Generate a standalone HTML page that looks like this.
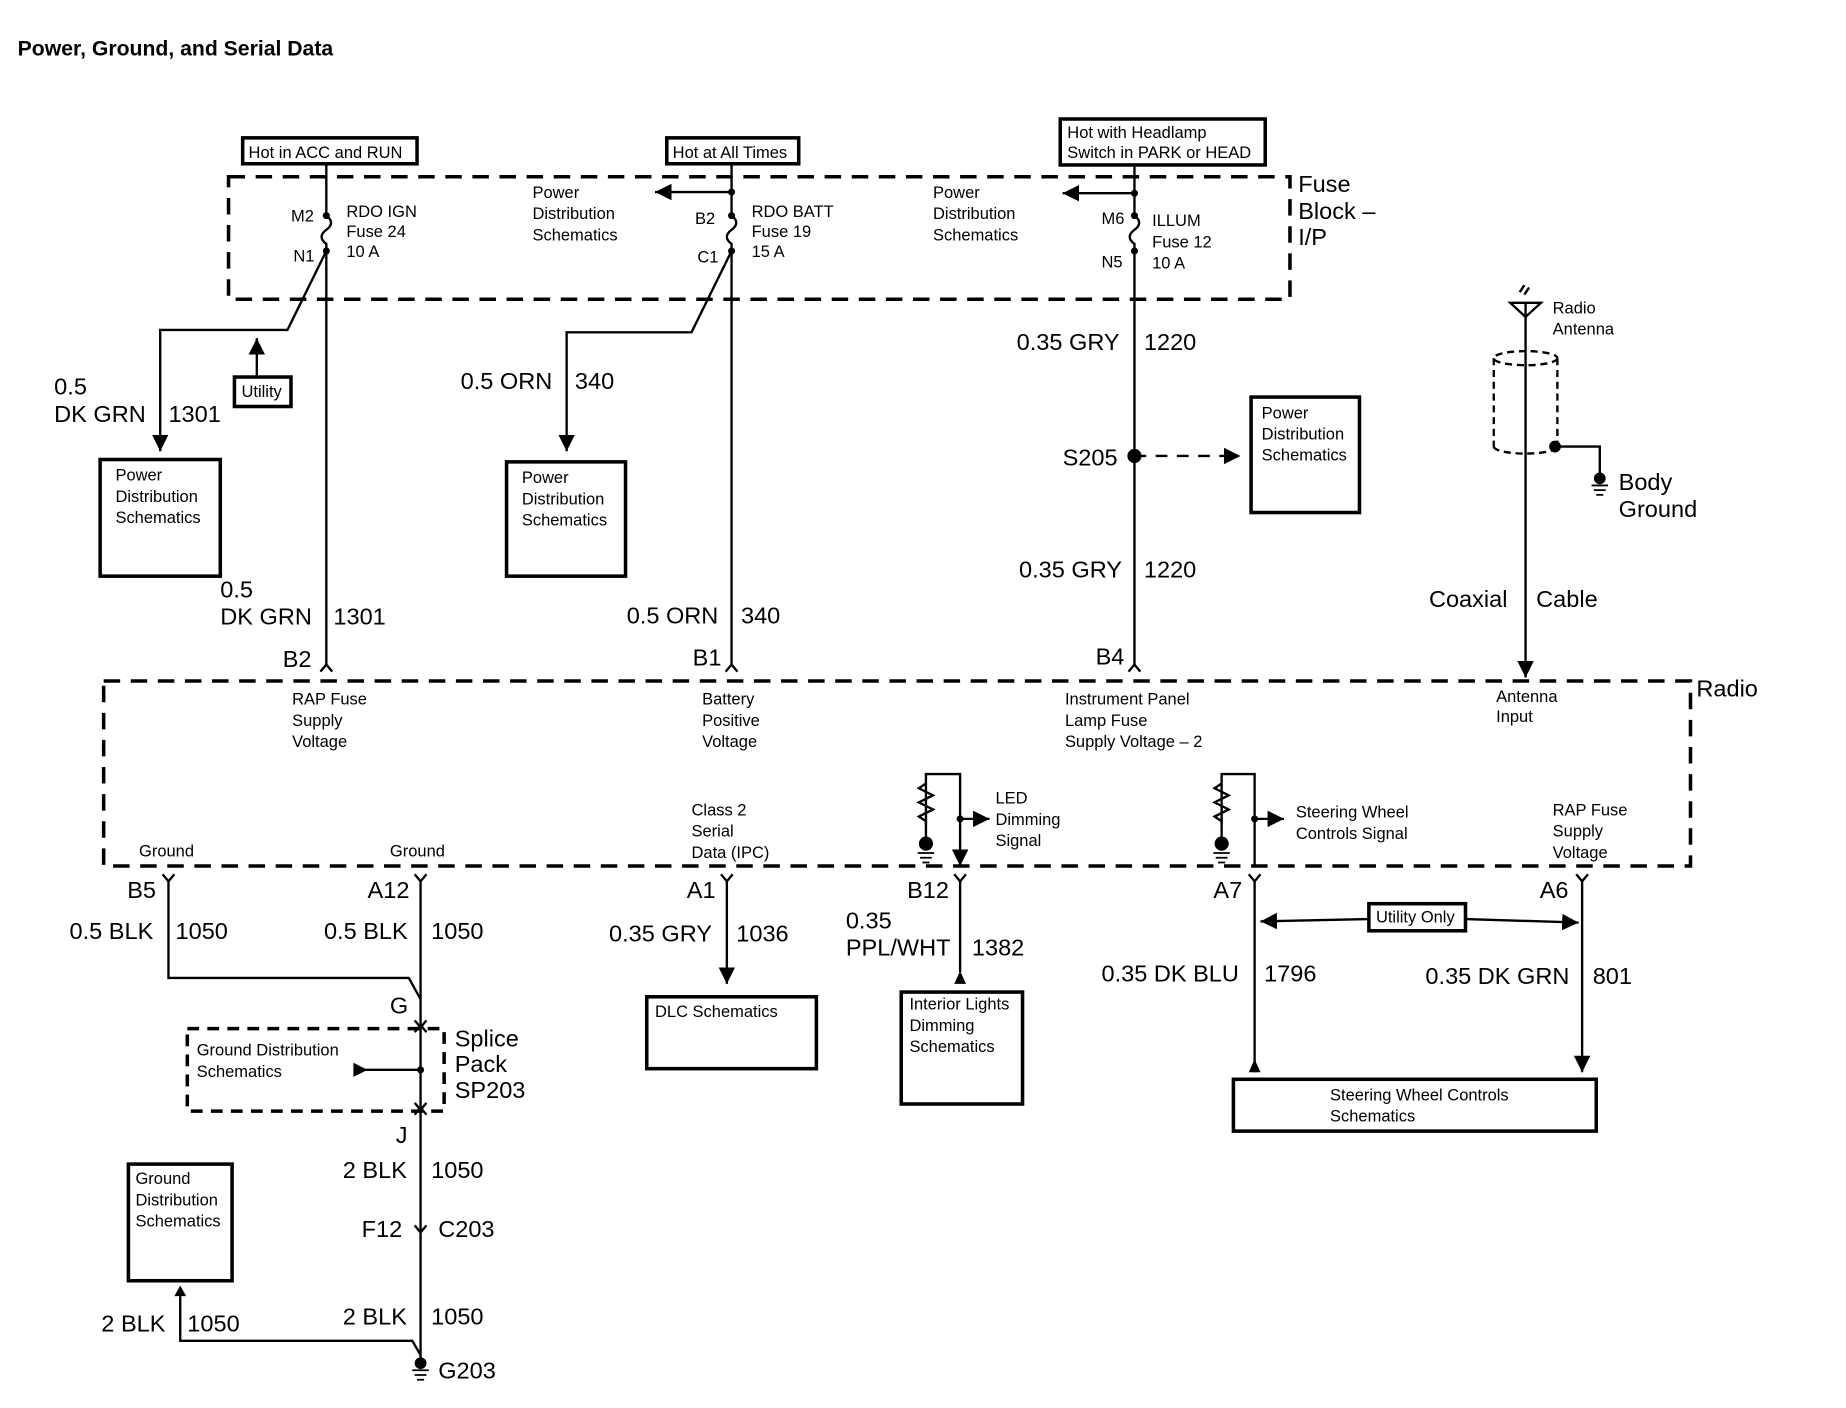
<!DOCTYPE html>
<html><head><meta charset="utf-8"><style>
html,body{margin:0;padding:0;background:#fff;}
svg{display:block}
text{font-family:"Liberation Sans",sans-serif;fill:#000}
.s{font-size:14px}
.m{font-size:19px}
.l{font-size:20px}
</style></head><body>
<svg width="1846" height="1408" viewBox="0 0 1567 1195" preserveAspectRatio="none" xmlns="http://www.w3.org/2000/svg">
<defs>
<marker id="a" viewBox="0 0 10 10" refX="10" refY="5" markerWidth="7" markerHeight="7" orient="auto"><path d="M0,0L10,5L0,10z"/></marker>
</defs>
<g stroke="#000" stroke-width="2" fill="none">
<rect x="194" y="150" width="901" height="104" stroke-dasharray="14,9" stroke-width="3"/>
<rect x="206" y="117" width="148" height="22" stroke-width="3"/>
<rect x="566" y="117" width="112" height="22" stroke-width="3"/>
<rect x="900" y="101" width="174" height="39" stroke-width="3"/>
<path d="M277,139V183 q8,6 0,12 q-8,6 0,12 V566"/>
<path d="M277,213L244,280H136V383" marker-end="url(#a)"/>
<rect x="199" y="320" width="48" height="25" stroke-width="3"/>
<path d="M218,320V287" marker-end="url(#a)"/>
<path d="M621,139V183 q8,6 0,12 q-8,6 0,12 V566"/>
<path d="M621,163H556" marker-end="url(#a)"/>
<path d="M621,213L587,282H481V383" marker-end="url(#a)"/>
<path d="M963,140V183 q8,6 0,12 q-8,6 0,12 V566"/>
<path d="M963,164H902" marker-end="url(#a)"/>
<path d="M963,387H1053" stroke-dasharray="10,8" marker-end="url(#a)"/>
<rect x="85" y="390" width="102" height="99" stroke-width="3"/>
<rect x="430" y="392" width="101" height="97" stroke-width="3"/>
<rect x="1062" y="337" width="92" height="98" stroke-width="3"/>
<path d="M272,570l5,-6l5,6M616,570l5,-6l5,6M958,570l5,-6l5,6"/>
<path d="M1282,257H1308L1295,269z"/>
<path d="M1290,248l4,-6M1294,250l4,-6"/>
<path d="M1295,257V575" marker-end="url(#a)"/>
<ellipse cx="1295" cy="304" rx="27" ry="6" stroke-dasharray="6,4"/>
<path d="M1268,304V379M1322,304V379" stroke-dasharray="6,4"/>
<path d="M1268,379a27,6 0 0 0 54,0" stroke-dasharray="6,4"/>
<path d="M1320,379H1358V405"/>
<rect x="88" y="578" width="1347" height="157" stroke-dasharray="14,9" stroke-width="3"/>
<path d="M786,700V657H815V735" />
<path d="M815,722V735" marker-end="url(#a)"/>
<path d="M786,665l-6,4l12,6l-12,6l12,6l-12,6l6,4V712"/>
<path d="M815,695H840" marker-end="url(#a)"/>
<path d="M1037,700V657H1065V735"/>
<path d="M1037,665l-6,4l12,6l-12,6l12,6l-12,6l6,4V712"/>
<path d="M1065,695H1090" marker-end="url(#a)"/>
<path d="M138,742l5,6l5,-6M352,742l5,6l5,-6M612,742l5,6l5,-6M810,742l5,6l5,-6M1060,742l5,6l5,-6M1338,742l5,6l5,-6"/>
<path d="M143,748V830H347L357,848V1160"/>
<path d="M357,748V848"/>
<rect x="159" y="873" width="218" height="70" stroke-dasharray="10,7" stroke-width="3"/>
<path d="M352,866l5,6l5,-6M352,876l5,-6l5,6M352,936l5,6l5,-6M352,946l5,-6l5,6M352,1040l5,6l5,-6"/>
<path d="M357,908H305"/>
<path d="M153,1100V1138H350L357,1150"/>
<rect x="109" y="988" width="88" height="99" stroke-width="3"/>
<path d="M617,748V835" marker-end="url(#a)"/>
<rect x="549" y="846" width="144" height="61" stroke-width="3"/>
<path d="M815,748V825"/>
<rect x="765" y="842" width="103" height="95" stroke-width="3"/>
<path d="M1065,748V910"/>
<path d="M1343,748V910" marker-end="url(#a)"/>
<rect x="1162" y="767" width="82" height="23" stroke-width="3"/>
<path d="M1162,780L1070,782" marker-end="url(#a)"/>
<path d="M1244,780L1340,783" marker-end="url(#a)"/>
<rect x="1047" y="916" width="308" height="44" stroke-width="3"/>
</g>
<g fill="#000">
<circle cx="277" cy="183" r="3"/><circle cx="277" cy="213" r="3"/>
<circle cx="621" cy="163" r="3"/><circle cx="621" cy="183" r="3"/><circle cx="621" cy="213" r="3"/>
<circle cx="963" cy="164" r="3"/><circle cx="963" cy="183" r="3"/><circle cx="963" cy="213" r="3"/>
<circle cx="963" cy="387" r="6"/><circle cx="1320" cy="379" r="5"/>
<circle cx="786" cy="716" r="6"/><circle cx="1037" cy="716" r="6"/>
<circle cx="815" cy="695" r="3"/><circle cx="1065" cy="695" r="3"/>
<circle cx="357" cy="908" r="3"/>
<path d="M300,902L312,908L300,914z"/>
<path d="M148,1100L153,1091L158,1100z"/>
<path d="M810,835L815,824L820,835z"/>
<path d="M1060,910L1065,899L1070,910z"/>
<circle cx="357" cy="1157" r="5"/>
<circle cx="1358" cy="406" r="5"/>
</g>
<g stroke="#000" stroke-width="1.5">
<path d="M779,724h14M781,728h10M783,732h6M1030,724h14M1032,728h10M1034,732h6"/>
<path d="M350,1163h14M352,1167h10M354,1171h6M1351,412h14M1353,416h10M1355,420h6"/>
</g>
<text x="15" y="47" style="font-size:18px;font-weight:bold">Power, Ground, and Serial Data</text>
<g class="s">
<text x="211" y="134">Hot in ACC and RUN</text>
<text x="571" y="134">Hot at All Times</text>
<text x="906" y="117">Hot with Headlamp</text><text x="906" y="134">Switch in PARK or HEAD</text>
<text x="247" y="188">M2</text><text x="249" y="222">N1</text>
<text x="294" y="184">RDO IGN</text><text x="294" y="201">Fuse 24</text><text x="294" y="218">10 A</text>
<text x="452" y="168">Power</text><text x="452" y="186">Distribution</text><text x="452" y="204">Schematics</text>
<text x="590" y="190">B2</text><text x="592" y="223">C1</text>
<text x="638" y="184">RDO BATT</text><text x="638" y="201">Fuse 19</text><text x="638" y="218">15 A</text>
<text x="792" y="168">Power</text><text x="792" y="186">Distribution</text><text x="792" y="204">Schematics</text>
<text x="935" y="190">M6</text><text x="935" y="227">N5</text>
<text x="978" y="192">ILLUM</text><text x="978" y="210">Fuse 12</text><text x="978" y="228">10 A</text>
<text x="205" y="337">Utility</text>
<text x="98" y="408">Power</text><text x="98" y="426">Distribution</text><text x="98" y="444">Schematics</text>
<text x="443" y="410">Power</text><text x="443" y="428">Distribution</text><text x="443" y="446">Schematics</text>
<text x="1071" y="355">Power</text><text x="1071" y="373">Distribution</text><text x="1071" y="391">Schematics</text>
<text x="1318" y="266">Radio</text><text x="1318" y="284">Antenna</text>
<text x="248" y="598">RAP Fuse</text><text x="248" y="616">Supply</text><text x="248" y="634">Voltage</text>
<text x="596" y="598">Battery</text><text x="596" y="616">Positive</text><text x="596" y="634">Voltage</text>
<text x="904" y="598">Instrument Panel</text><text x="904" y="616">Lamp Fuse</text><text x="904" y="634">Supply Voltage – 2</text>
<text x="1270" y="596">Antenna</text><text x="1270" y="613">Input</text>
<text x="118" y="727">Ground</text><text x="331" y="727">Ground</text>
<text x="587" y="692">Class 2</text><text x="587" y="710">Serial</text><text x="587" y="728">Data (IPC)</text>
<text x="845" y="682">LED</text><text x="845" y="700">Dimming</text><text x="845" y="718">Signal</text>
<text x="1100" y="694">Steering Wheel</text><text x="1100" y="712">Controls Signal</text>
<text x="1318" y="692">RAP Fuse</text><text x="1318" y="710">Supply</text><text x="1318" y="728">Voltage</text>
<text x="167" y="896">Ground Distribution</text><text x="167" y="914">Schematics</text>
<text x="115" y="1005">Ground</text><text x="115" y="1023">Distribution</text><text x="115" y="1041">Schematics</text>
<text x="556" y="863">DLC Schematics</text>
<text x="772" y="857">Interior Lights</text><text x="772" y="875">Dimming</text><text x="772" y="893">Schematics</text>
<text x="1168" y="783">Utility Only</text>
<text x="1129" y="934">Steering Wheel Controls</text><text x="1129" y="952">Schematics</text>
</g>
<g class="l">
<text x="1102" y="163">Fuse</text><text x="1102" y="186">Block –</text><text x="1102" y="208">I/P</text>
<text x="46" y="335">0.5</text><text x="46" y="358">DK GRN</text><text x="143" y="358">1301</text>
<text x="187" y="507">0.5</text><text x="187" y="530">DK GRN</text><text x="283" y="530">1301</text>
<text x="240" y="566">B2</text>
<text x="391" y="330">0.5 ORN</text><text x="488" y="330">340</text>
<text x="532" y="529">0.5 ORN</text><text x="629" y="529">340</text><text x="588" y="565">B1</text>
<text x="863" y="297">0.35 GRY</text><text x="971" y="297">1220</text>
<text x="902" y="395">S205</text>
<text x="865" y="490">0.35 GRY</text><text x="971" y="490">1220</text><text x="930" y="564">B4</text>
<text x="1374" y="416">Body</text><text x="1374" y="439">Ground</text>
<text x="1213" y="515">Coaxial</text><text x="1304" y="515">Cable</text>
<text x="1440" y="591">Radio</text>
<text x="108" y="762">B5</text><text x="312" y="762">A12</text><text x="583" y="762">A1</text>
<text x="770" y="762">B12</text><text x="1030" y="762">A7</text><text x="1307" y="762">A6</text>
<text x="59" y="797">0.5 BLK</text><text x="149" y="797">1050</text>
<text x="275" y="797">0.5 BLK</text><text x="366" y="797">1050</text>
<text x="331" y="860">G</text>
<text x="386" y="888">Splice</text><text x="386" y="910">Pack</text><text x="386" y="932">SP203</text>
<text x="336" y="970">J</text>
<text x="291" y="1000">2 BLK</text><text x="366" y="1000">1050</text>
<text x="307" y="1050">F12</text><text x="372" y="1050">C203</text>
<text x="291" y="1124">2 BLK</text><text x="366" y="1124">1050</text>
<text x="86" y="1130">2 BLK</text><text x="159" y="1130">1050</text>
<text x="372" y="1170">G203</text>
<text x="517" y="799">0.35 GRY</text><text x="625" y="799">1036</text>
<text x="718" y="788">0.35</text><text x="718" y="811">PPL/WHT</text><text x="825" y="811">1382</text>
<text x="935" y="833">0.35 DK BLU</text><text x="1073" y="833">1796</text>
<text x="1210" y="835">0.35 DK GRN</text><text x="1352" y="835">801</text>
</g>
</svg>
</body></html>
